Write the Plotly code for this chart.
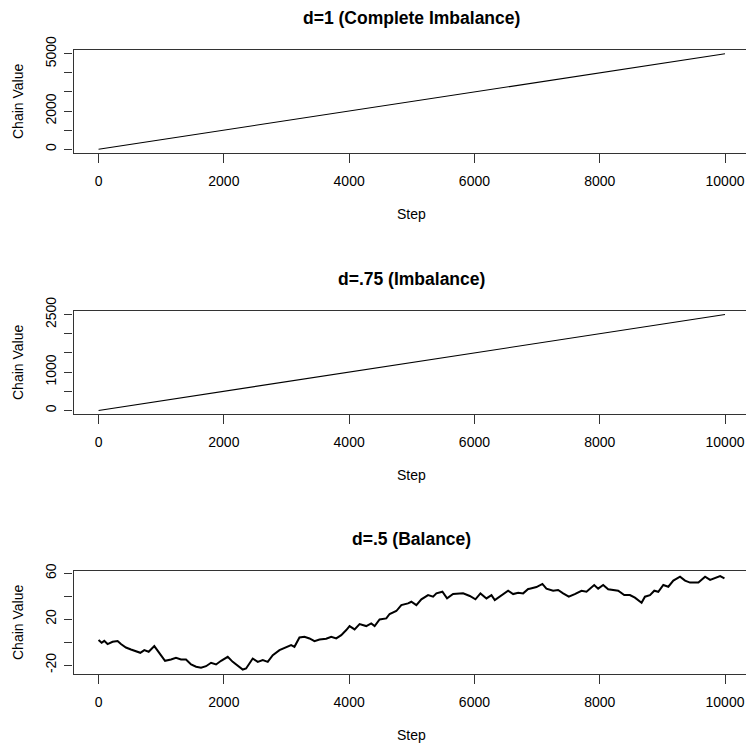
import plotly.graph_objects as go

# ---- data ----
steps_lin = [0, 10000]
chain_d1 = [0, 5000]
chain_d075 = [0, 2500]

steps_bal = [0, 11, 49, 91, 144, 224, 304, 357, 437, 517, 597, 667, 730, 800, 890, 970,
             1061, 1156, 1236, 1316, 1396, 1477, 1557, 1636, 1716, 1796, 1876, 1956, 2062,
             2142, 2211, 2302, 2355, 2461, 2541, 2621, 2701, 2781, 2888, 2994, 3074, 3127,
             3207, 3287, 3367, 3447, 3527, 3634, 3714, 3794, 3874, 3954, 4007, 4087, 4167,
             4273, 4353, 4407, 4486, 4593, 4646, 4753, 4833, 4940, 4993, 5073, 5153, 5260,
             5340, 5393, 5489, 5563, 5659, 5819, 5926, 6016, 6096, 6192, 6272, 6325, 6432,
             6538, 6618, 6698, 6778, 6858, 6883, 6990, 7085, 7149, 7256, 7336, 7416, 7506,
             7602, 7709, 7789, 7842, 7912, 7975, 8055, 8135, 8215, 8295, 8391, 8482, 8562,
             8615, 8668, 8722, 8802, 8871, 8935, 9015, 9095, 9175, 9282, 9362, 9442, 9575,
             9682, 9762, 9842, 9922, 9991]
chain_bal = [1.8, 1.1, -0.6, 1.1, -1.7, 0.3, 0.9, -1.7, -4.7, -6.4, -7.9, -9.3, -7.0, -8.4,
             -3.5, -9.3, -16.3, -15.1, -13.7, -15.1, -15.1, -19.5, -21.5, -22.4, -21.0, -18.0,
             -19.5, -16.3, -12.8, -17.2, -20.1, -23.9, -23.0, -14.3, -17.2, -15.7, -17.2, -11.4,
             -7.0, -4.1, -2.6, -4.1, 4.1, 4.7, 3.2, 0.9, 2.3, 2.9, 4.7, 3.2, 6.1, 10.5, 14.0,
             11.1, 15.7, 14.0, 16.3, 14.0, 19.8, 20.7, 24.5, 27.1, 32.3, 33.8, 35.2, 32.3, 37.3,
             41.0, 39.6, 42.5, 43.9, 38.1, 41.9, 42.5, 40.2, 37.3, 42.5, 38.1, 41.0, 36.7, 41.0,
             44.8, 41.9, 43.1, 42.5, 46.3, 46.6, 48.0, 50.7, 46.6, 44.8, 45.4, 42.5, 39.6, 41.9,
             44.8, 43.9, 46.6, 49.8, 46.6, 49.8, 46.0, 45.4, 44.8, 41.0, 41.0, 38.7, 36.7, 34.3,
             39.6, 41.0, 44.8, 43.9, 49.8, 48.3, 53.6, 57.0, 53.6, 51.9, 51.9, 57.0, 54.2, 55.6,
             57.6, 55.6]

titles = ["d=1 (Complete Imbalance)", "d=.75 (Imbalance)", "d=.5 (Balance)"]
x_ticks = [0, 2000, 4000, 6000, 8000, 10000]
y1_ticks = [0, 1000, 2000, 3000, 4000, 5000]
y1_text = ["0", "", "2000", "", "", "5000"]
y2_ticks = [0, 500, 1000, 1500, 2000, 2500]
y2_text = ["0", "", "1000", "", "", "2500"]
y3_ticks = [-20, 0, 20, 40, 60]
y3_text = ["-20", "", "20", "", "60"]

W, H = 746, 745
FONT = "Liberation Sans, Arial, sans-serif"

# pixel layout (box top, box bottom) of each panel
boxes = [(50, 153), (310.7, 414.3), (571, 674)]
left_px = 73.5
yranges = [[-200, 5200], [-100, 2600], [-27.8, 62]]
yt = [(y1_ticks, y1_text), (y2_ticks, y2_text), (y3_ticks, y3_text)]

fig = go.Figure()
series = [(steps_lin, chain_d1, 1.1), (steps_lin, chain_d075, 1.1), (steps_bal, chain_bal, 2)]
for i, (xs, ys, lw) in enumerate(series):
    fig.add_trace(go.Scatter(x=xs, y=ys, mode="lines",
                             line=dict(color="black", width=lw),
                             xaxis="x" if i == 0 else f"x{i+1}",
                             yaxis="y" if i == 0 else f"y{i+1}",
                             showlegend=False, hoverinfo="skip"))

layout = dict(width=W, height=H, margin=dict(l=0, r=0, t=0, b=0, autoexpand=False),
              template="none",
              paper_bgcolor="white", plot_bgcolor="white",
              font=dict(family=FONT, size=14, color="black"))
annotations = []
for i, (top, bot) in enumerate(boxes):
    sfx = "" if i == 0 else str(i + 1)
    dom = [1 - bot / H, 1 - top / H]
    layout[f"xaxis{sfx}"] = dict(
        domain=[left_px / W, 1], range=[-400, 10335], automargin=False,
        anchor=f"y{sfx}", showgrid=False, zeroline=False,
        showline=True, mirror=True, linecolor="#333", linewidth=1.2,
        ticks="outside", ticklen=9, tickcolor="#333", tickwidth=1.2,
        tickvals=x_ticks, ticktext=[str(v) for v in x_ticks],
        tickfont=dict(family=FONT, size=14), ticklabelstandoff=6)
    tv, tt = yt[i]
    layout[f"yaxis{sfx}"] = dict(
        domain=dom, range=yranges[i], anchor=f"x{sfx}", automargin=False,
        showgrid=False, zeroline=False,
        showline=True, mirror=False, linecolor="#333", linewidth=1.2,
        ticks="outside", ticklen=8, tickcolor="#333", tickwidth=1.2,
        tickvals=tv, ticktext=tt, tickangle=-90,
        tickfont=dict(family=FONT, size=14), ticklabelstandoff=3)
    cx = (left_px + 750) / 2 / W
    annotations.append(dict(text=f"<b>{titles[i]}</b>", x=cx, y=1 - (top - 32) / H,
                            xref="paper", yref="paper", showarrow=False,
                            xanchor="center", yanchor="middle",
                            font=dict(family=FONT, size=17.5)))
    annotations.append(dict(text="Step", x=cx, y=1 - (bot + 61) / H,
                            xref="paper", yref="paper", showarrow=False,
                            xanchor="center", yanchor="middle",
                            font=dict(family=FONT, size=14)))
    annotations.append(dict(text="Chain Value", x=17.5 / W, y=1 - ((top + bot) / 2) / H,
                            xref="paper", yref="paper", showarrow=False, textangle=-90,
                            xanchor="center", yanchor="middle",
                            font=dict(family=FONT, size=14)))
layout["annotations"] = annotations
fig.update_layout(**layout)
fig.write_html("out.html")
